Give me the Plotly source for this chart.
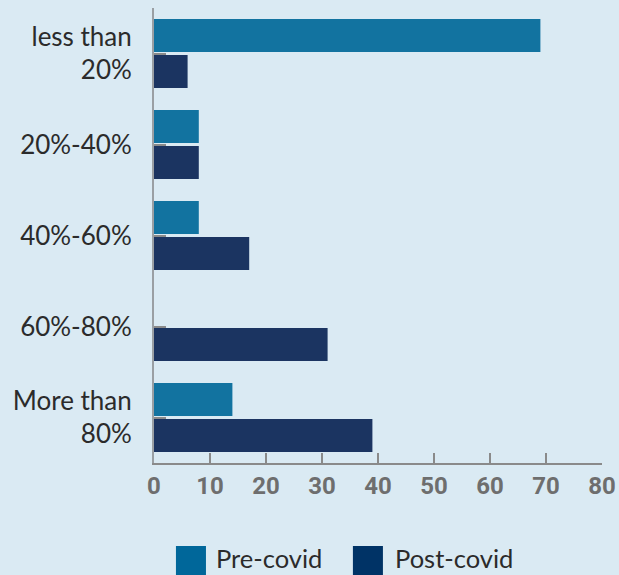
import plotly.graph_objects as go

categories = ["less than<br>20%", "20%-40%", "40%-60%", "60%-80%", "More than<br>80%"]
pre_covid = [69, 8, 8, 0, 14]
post_covid = [6, 8, 17, 31, 39]
series_names = ["Pre-covid", "Post-covid"]
x_ticks = [0, 10, 20, 30, 40, 50, 60, 70, 80]

bar_colors = ["#1273A0", "#1B3461"]
swatch_colors = ["#00679A", "#003366"]
bg = "#DAEAF3"

fig = go.Figure()
fig.add_trace(go.Bar(y=categories, x=pre_covid, orientation="h", name=series_names[0],
                     marker=dict(color=bar_colors[0], line=dict(width=0)), showlegend=False))
fig.add_trace(go.Bar(y=categories, x=post_covid, orientation="h", name=series_names[1],
                     marker=dict(color=bar_colors[1], line=dict(width=0)), showlegend=False))

# custom legend with large square swatches
legend_items = [
    (series_names[0], swatch_colors[0], 0.049, 0.116, 0.134),
    (series_names[1], swatch_colors[1], 0.444, 0.511, 0.534),
]
for name, col, x0, x1, xt in legend_items:
    fig.add_shape(type="rect", xref="paper", yref="paper", x0=x0, x1=x1, y0=-0.26, y1=-0.1824,
                  fillcolor=col, line=dict(width=0))
    fig.add_annotation(xref="paper", yref="paper", x=xt, y=-0.2085, text=name, showarrow=False,
                       xanchor="left", yanchor="middle",
                       font=dict(family="Lato", size=25.5, color="#2b2b2b"))

fig.update_layout(
    width=619, height=575,
    margin=dict(l=154, r=17, t=8, b=112),
    paper_bgcolor=bg, plot_bgcolor=bg,
    barmode="group", bargap=0.21, bargroupgap=0.083,
    font=dict(family="Lato", color="#2b2b2b"),
)
fig.update_xaxes(range=[0, 80], tickvals=x_ticks,
                 ticks="inside", ticklen=10, tickwidth=2, automargin=False,
                 tickcolor="#8a8a8a", showline=True, linecolor="#8a8a8a", linewidth=2,
                 showgrid=False, zeroline=False,
                 tickfont=dict(family="Roboto", size=24, color="#6e6e6e", weight=700))
fig.update_yaxes(autorange="reversed", ticks="inside", ticklen=12, tickwidth=2, automargin=False,
                 tickcolor="#8a8a8a", showline=True, linecolor="#9a9fa3", linewidth=2,
                 showgrid=False, zeroline=False, ticklabelstandoff=15,
                 tickfont=dict(family="Lato", size=26, color="#2b2b2b"))

fig.write_html("out.html")
